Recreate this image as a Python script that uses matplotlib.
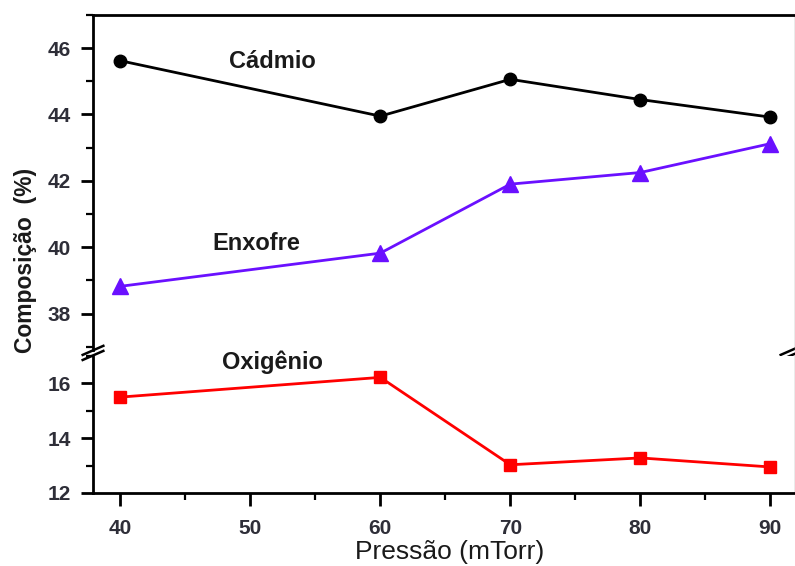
import numpy as np
import matplotlib
matplotlib.use('Agg')
import matplotlib.pyplot as plt
from matplotlib.ticker import MultipleLocator

plt.rcParams['font.family'] = ['Liberation Sans', 'DejaVu Sans']

pressao = [40, 60, 70, 80, 90]
cadmio = [45.62, 43.95, 45.06, 44.45, 43.92]
enxofre = [38.82, 39.82, 41.9, 42.25, 43.12]
oxigenio = [15.5, 16.22, 13.03, 13.28, 12.95]

tick_color = '#2e2e38'
text_color = '#1a1a1a'

fig = plt.figure(figsize=(7.95, 5.66), dpi=100)
ax_top = fig.add_axes([0.117, 0.3816, 0.883, 0.592])
ax_bot = fig.add_axes([0.117, 0.129, 0.883, 0.242], sharex=ax_top)

ax_top.plot(pressao, cadmio, color='black', lw=2, marker='o', ms=9)
ax_top.plot(pressao, enxofre, color='#6a10ff', lw=2, marker='^', ms=11)
ax_bot.plot(pressao, oxigenio, color='#ff0000', lw=2, marker='s', ms=8.5)

ax_top.set_ylim(36.9, 47.0)
ax_bot.set_ylim(12.0, 17.0)
ax_bot.set_xlim(37.9, 91.9)

ax_top.yaxis.set_major_locator(MultipleLocator(2))
ax_top.yaxis.set_minor_locator(MultipleLocator(1))
ax_bot.yaxis.set_major_locator(MultipleLocator(2))
ax_bot.yaxis.set_minor_locator(MultipleLocator(1))
ax_bot.xaxis.set_major_locator(MultipleLocator(10))
ax_bot.xaxis.set_minor_locator(MultipleLocator(5))

for ax in (ax_top, ax_bot):
    for side in ('left', 'bottom', 'top'):
        ax.spines[side].set_linewidth(2)
        ax.spines[side].set_color('black')
    ax.spines['right'].set_linewidth(1)
    ax.spines['right'].set_color('#9a9a9a')
    ax.tick_params(which='major', direction='out', length=9, width=2,
                   labelsize=15, labelcolor=tick_color, right=False, top=False,
                   pad=7)
    ax.tick_params(which='minor', direction='out', length=5, width=1.6,
                   right=False, top=False)
    for lbl in ax.get_yticklabels() + ax.get_xticklabels():
        lbl.set_fontweight('bold')

ax_top.spines['bottom'].set_visible(False)
ax_bot.spines['top'].set_visible(False)
ax_top.tick_params(axis='x', which='both', bottom=False, labelbottom=False)
ax_bot.tick_params(axis='x', which='major', pad=10)
for lbl in ax_bot.get_xticklabels():
    lbl.set_fontweight('bold')

# break marks on both sides of the y axis
kw = dict(color='black', lw=1.8, clip_on=False, transform=fig.transFigure)
for x0 in (0.117, 0.995):
    for dy in (0.0, 0.009):
        y0 = 0.372 + dy
        ax_top.plot([x0 - 0.013, x0 + 0.013], [y0 - 0.008, y0 + 0.008], **kw)

ax_top.text(51.7, 45.6, 'Cádmio', ha='center', va='center', fontsize=17,
            fontweight='bold', color=text_color)
ax_top.text(50.5, 40.1, 'Enxofre', ha='center', va='center', fontsize=17,
            fontweight='bold', color=text_color)
ax_bot.text(51.7, 16.78, 'Oxigênio', ha='center', va='center', fontsize=17,
            fontweight='bold', color=text_color)

fig.text(0.032, 0.54, 'Composição  (%)', rotation=90, ha='center', va='center',
         fontsize=16.5, fontweight='bold', color=text_color)
fig.text(0.565, 0.025, 'Pressão (mTorr)', ha='center', va='center',
         fontsize=19, color=text_color)

fig.savefig('out.png', dpi=100)
